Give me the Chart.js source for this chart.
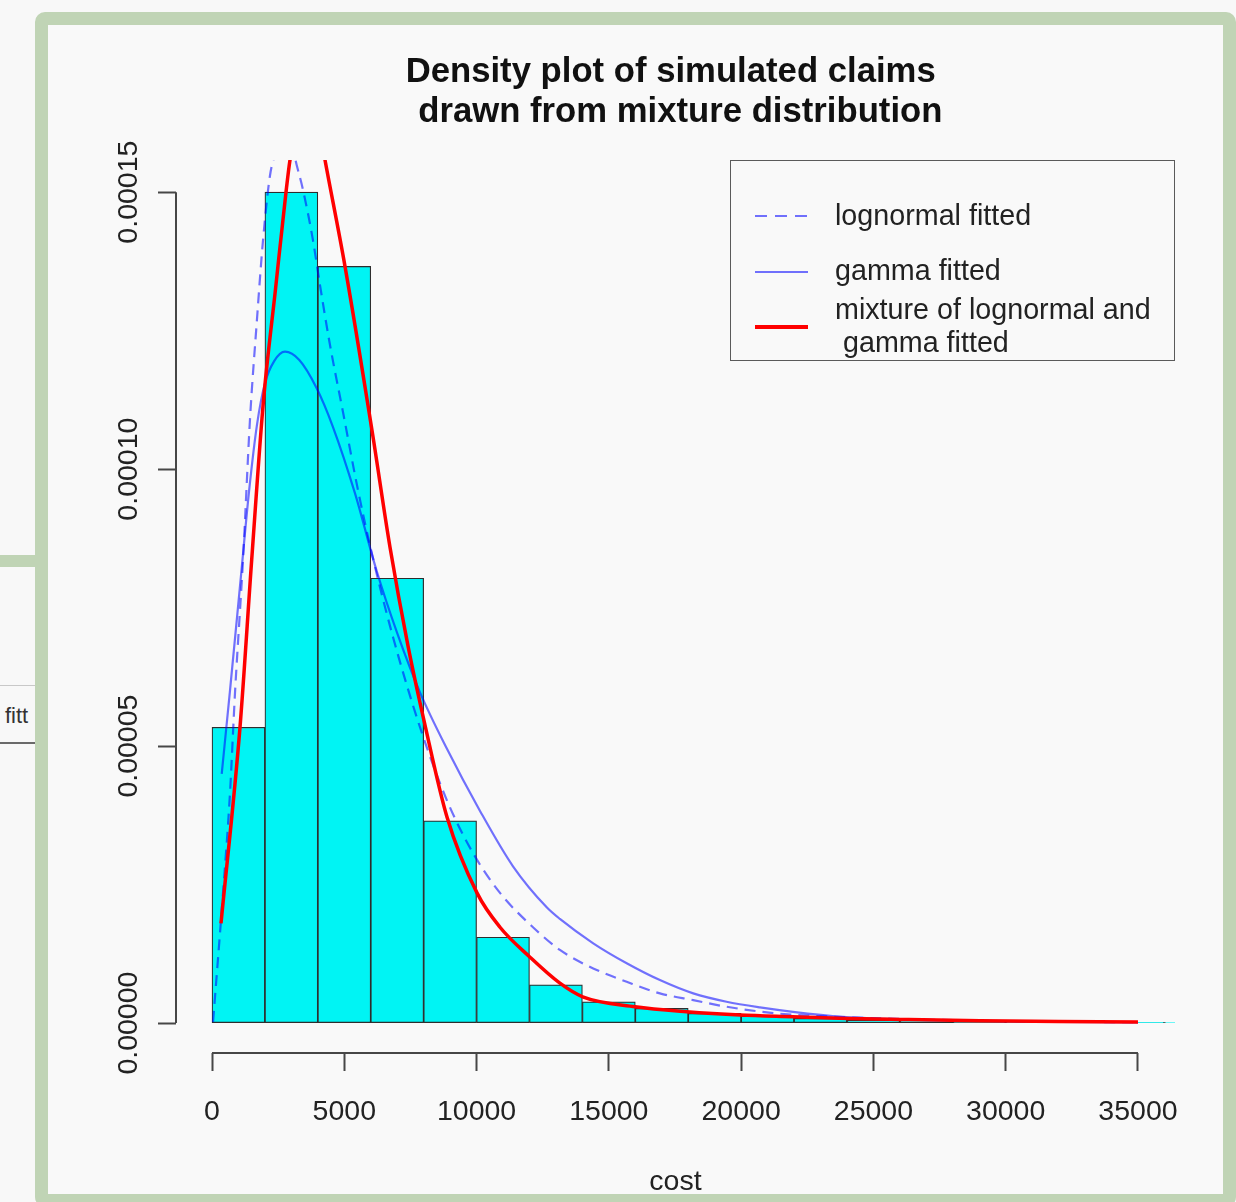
<!DOCTYPE html>
<html>
<head>
<meta charset="utf-8">
<title>Density plot of simulated claims</title>
<script src="https://cdn.jsdelivr.net/npm/chart.js@4.4.1/dist/chart.umd.min.js"></script>
<style>
  html, body { margin: 0; padding: 0; }
  body {
    width: 1236px; height: 1202px; position: relative; overflow: hidden;
    background: #f8f8f8; color: #1e1e1e;
    font-family: "Liberation Sans", Arial, Helvetica, sans-serif;
  }
  /* edge of the neighbouring window on the left */
  #sidePane { position: absolute; left: 0; top: 555px; width: 40px; height: 700px;
    border-top: 12px solid #c0d4b5; background: #f8f8f8; }
  #sidePane .rule1 { position: absolute; left: 0; right: 0; top: 118px; border-top: 1px solid #c8c8c8; }
  #sidePane .rule2 { position: absolute; left: 0; right: 0; top: 175px; border-top: 2px solid #6a6a6a; }
  #sidePane .txt { position: absolute; left: 5px; top: 138px; font-size: 22px; line-height: 22px; color: #333; }

  #frame { position: absolute; left: 35px; top: 12px; width: 1201px; height: 1195px; box-sizing: border-box;
    border: 13px solid #c0d4b5; border-radius: 10px; background: #f9f9f9; }
  #chart { position: absolute; left: 0; top: 0; z-index: 2; }

  #title { position: absolute; left: 176px; width: 999px; top: 50px; z-index: 3;
    text-align: center; white-space: pre; font-weight: bold; font-size: 34.7px; line-height: 40px; color: #111; }

  #legendBox { position: absolute; left: 730px; top: 160px; width: 445px; height: 201px; box-sizing: border-box;
    border: 1.5px solid #5a5a5a; z-index: 3; }
  .key { position: absolute; left: 755px; width: 53px; z-index: 3; }
  .lab { position: absolute; left: 835px; font-size: 28.7px; line-height: 34px; white-space: pre; color: #222; z-index: 3; }
</style>
</head>
<body>
<div id="sidePane"><div class="rule1"></div><div class="txt">fitt</div><div class="rule2"></div></div>
<div id="frame"></div>
<canvas id="chart" width="1236" height="1202"></canvas>

<div id="title">Density plot of simulated claims 
 drawn from mixture distribution</div>

<div id="legendBox"></div>
<div class="key" id="keyLn" style="top:215px;height:2px"></div>
<div class="lab" style="top:198px">lognormal fitted</div>
<div class="key" id="keyGamma" style="top:271px;height:2px"></div>
<div class="lab" style="top:253px">gamma fitted</div>
<div class="key" id="keyMix" style="top:325px;height:3.5px"></div>
<div class="lab" style="top:292px">mixture of lognormal and</div>
<div class="lab" style="top:325px"> gamma fitted</div>

<script>
// histogram of simulated claim costs (density scale)
const binEdges = [0, 2000, 4000, 6000, 8000, 10000, 12000, 14000, 16000, 18000, 20000,
  22000, 24000, 26000, 28000, 30000, 32000, 34000, 36000, 38000];
const binDensity = [5.34e-5, 1.50e-4, 1.366e-4, 8.03e-5, 3.65e-5, 1.55e-5, 6.9e-6, 3.85e-6, 2.65e-6,
  1.75e-6, 1.26e-6, 0.85e-6, 0.55e-6, 0.42e-6, 0.32e-6, 0.25e-6, 0.18e-6, 0.14e-6, 0.10e-6];

// fitted densities
const lnCost = [40, 416, 680, 869, 1058, 1172, 1436, 1690, 1928, 2192, 2450, 2750, 3050, 3200, 3440, 3817,
  4082, 4460, 4951, 5518, 6085, 6841, 7862, 8871, 9865, 10886, 12133, 13150, 14410, 15675, 16930, 18190,
  19450, 21340, 23850, 26500, 29030, 32000, 35000];
const lnDensity = [2e-7, 2.35e-5, 4.15e-5, 5.96e-5, 7.45e-5, 8.36e-5, 1.09e-4, 1.264e-4, 1.413e-4, 1.53e-4,
  1.575e-4, 1.60e-4, 1.578e-4, 1.549e-4, 1.504e-4, 1.413e-4, 1.332e-4, 1.224e-4, 1.103e-4, 9.62e-5,
  8.39e-5, 6.97e-5, 5.34e-5, 4.03e-5, 3.07e-5, 2.35e-5, 1.73e-5, 1.32e-5, 9.87e-6, 7.46e-6, 5.36e-6,
  4.15e-6, 2.95e-6, 1.75e-6, 1.08e-6, 0.7e-6, 0.42e-6, 0.25e-6, 0.15e-6];

const gammaCost = [367, 680, 1100, 1400, 1700, 2000, 2350, 2760, 3300, 3957, 4573, 5400, 6225, 7000,
  7862, 8871, 10130, 11377, 12651, 13150, 14410, 15675, 16930, 18190, 19450, 20710, 21960, 23850,
  25430, 27000, 29030, 32000, 35000];
const gammaDensity = [4.5e-5, 6.0e-5, 8.1e-5, 9.6e-5, 1.08e-4, 1.155e-4, 1.195e-4, 1.212e-4, 1.197e-4,
  1.146e-4, 1.076e-4, 9.57e-5, 8.16e-5, 7.04e-5, 5.97e-5, 4.96e-5, 3.83e-5, 2.83e-5, 2.09e-5,
  1.88e-5, 1.44e-5, 1.08e-5, 7.76e-6, 5.36e-6, 3.85e-6, 2.83e-6, 2.04e-6, 1.14e-6, 0.78e-6,
  0.55e-6, 0.4e-6, 0.22e-6, 0.12e-6];

const mixCost = [340, 1058, 1500, 1939, 2400, 2797, 2948, 3300, 3650, 4000, 4271, 5027, 6047, 6728, 7408,
  8051, 8882, 10016, 10886, 12020, 13150, 14010, 15990, 17940, 19960, 21960, 24000, 26000, 29030,
  32000, 35000];
const mixDensity = [1.8e-5, 5.34e-5, 8.36e-5, 1.12e-4, 1.325e-4, 1.50e-4, 1.558e-4, 1.64e-4, 1.665e-4, 1.63e-4,
  1.558e-4, 1.366e-4, 1.07e-4, 8.59e-5, 6.81e-5, 5.38e-5, 3.72e-5, 2.35e-5, 1.73e-5, 1.19e-5,
  7.2e-6, 4.75e-6, 2.95e-6, 2.04e-6, 1.44e-6, 1.14e-6, 0.85e-6, 0.66e-6, 0.42e-6, 0.3e-6, 0.2e-6];

const xTicks = [0, 5000, 10000, 15000, 20000, 25000, 30000, 35000];
const xTickLabels = ["0", "5000", "10000", "15000", "20000", "25000", "30000", "35000"];
const yTicks = [0, 0.00005, 0.0001, 0.00015];
const yTickLabels = ["0.00000", "0.00005", "0.00010", "0.00015"];

const lnColor = "rgba(0,0,255,0.55)";
const gammaColor = "rgba(0,0,255,0.55)";
const mixColor = "#ff0000";
const axisColor = "#474747";

document.getElementById("keyLn").style.background =
  `repeating-linear-gradient(90deg, ${lnColor} 0 12px, transparent 12px 20px)`;
document.getElementById("keyGamma").style.background = gammaColor;
document.getElementById("keyMix").style.background = mixColor;

const histData = binDensity.map((d, i) => ({ x: (binEdges[i] + binEdges[i + 1]) / 2, y: d }));
const toPoints = (xs, ys) => xs.map((c, i) => ({ x: c, y: ys[i] }));

// R style axis lines: only from first to last tick
const rAxisLines = {
  id: "rAxisLines",
  afterDraw(chart) {
    const { ctx, chartArea, scales } = chart;
    ctx.save();
    ctx.strokeStyle = axisColor;
    ctx.lineWidth = 2;
    ctx.beginPath();
    ctx.moveTo(scales.x.getPixelForValue(xTicks[0]), chartArea.bottom);
    ctx.lineTo(scales.x.getPixelForValue(xTicks[xTicks.length - 1]), chartArea.bottom);
    ctx.moveTo(chartArea.left, scales.y.getPixelForValue(yTicks[0]));
    ctx.lineTo(chartArea.left, scales.y.getPixelForValue(yTicks[yTicks.length - 1]));
    ctx.stroke();
    ctx.restore();
  }
};

Chart.defaults.font.family = '"Liberation Sans", Arial, Helvetica, sans-serif';

const tickGrid = { display: true, drawOnChartArea: false, drawTicks: true, tickLength: 18,
  tickColor: axisColor, tickWidth: 2, offset: false };

new Chart(document.getElementById("chart").getContext("2d"), {
  type: "bar",
  data: {
    datasets: [
      { type: "line", label: "mixture of lognormal and gamma fitted", data: toPoints(mixCost, mixDensity),
        borderColor: mixColor, borderWidth: 3.5, pointRadius: 0, fill: false,
        cubicInterpolationMode: "monotone", order: 1 },
      { type: "line", label: "gamma fitted", data: toPoints(gammaCost, gammaDensity),
        borderColor: gammaColor, borderWidth: 2.2, pointRadius: 0, fill: false,
        cubicInterpolationMode: "monotone", order: 2 },
      { type: "line", label: "lognormal fitted", data: toPoints(lnCost, lnDensity),
        borderColor: lnColor, borderWidth: 2.2, borderDash: [11, 7], pointRadius: 0, fill: false,
        cubicInterpolationMode: "monotone", order: 3 },
      { type: "bar", label: "cost", data: histData,
        backgroundColor: "#00f4f4", borderColor: "#2e2e2e", borderWidth: 1.2, borderSkipped: false,
        barPercentage: 1, categoryPercentage: 1, clip: 0, order: 4 }
    ]
  },
  options: {
    responsive: false,
    animation: false,
    devicePixelRatio: 1,
    layout: { padding: { left: 0, top: 160, right: 61, bottom: 0 }, autoPadding: false },
    plugins: { legend: { display: false }, tooltip: { enabled: false }, title: { display: false } },
    scales: {
      x: {
        type: "linear", min: -1361, max: 36400, offset: false, bounds: "data",
        afterBuildTicks: s => { s.ticks = xTicks.map(v => ({ value: v })); },
        afterFit: s => { s.height = 149; s.paddingLeft = 0; s.paddingRight = 0; },
        grid: tickGrid,
        border: { display: false },
        ticks: { autoSkip: false, maxRotation: 0, padding: 24, color: "#222", font: { size: 28.5 },
          callback: (v, i) => xTickLabels[i] },
        title: { display: true, text: "cost", color: "#222", font: { size: 28.5 }, padding: { top: 0, bottom: 3 } }
      },
      y: {
        type: "linear", min: -0.0000054, max: 0.0001558, bounds: "data",
        afterBuildTicks: s => { s.ticks = yTicks.map(v => ({ value: v })); },
        afterFit: s => { s.width = 176; s.paddingTop = 0; s.paddingBottom = 0; },
        grid: tickGrid,
        border: { display: false },
        ticks: { autoSkip: false, minRotation: 90, maxRotation: 90, crossAlign: "center", padding: -23,
          color: "#222", font: { size: 28.5 }, callback: (v, i) => yTickLabels[i] }
      }
    }
  },
  plugins: [rAxisLines]
});
</script>
</body>
</html>
